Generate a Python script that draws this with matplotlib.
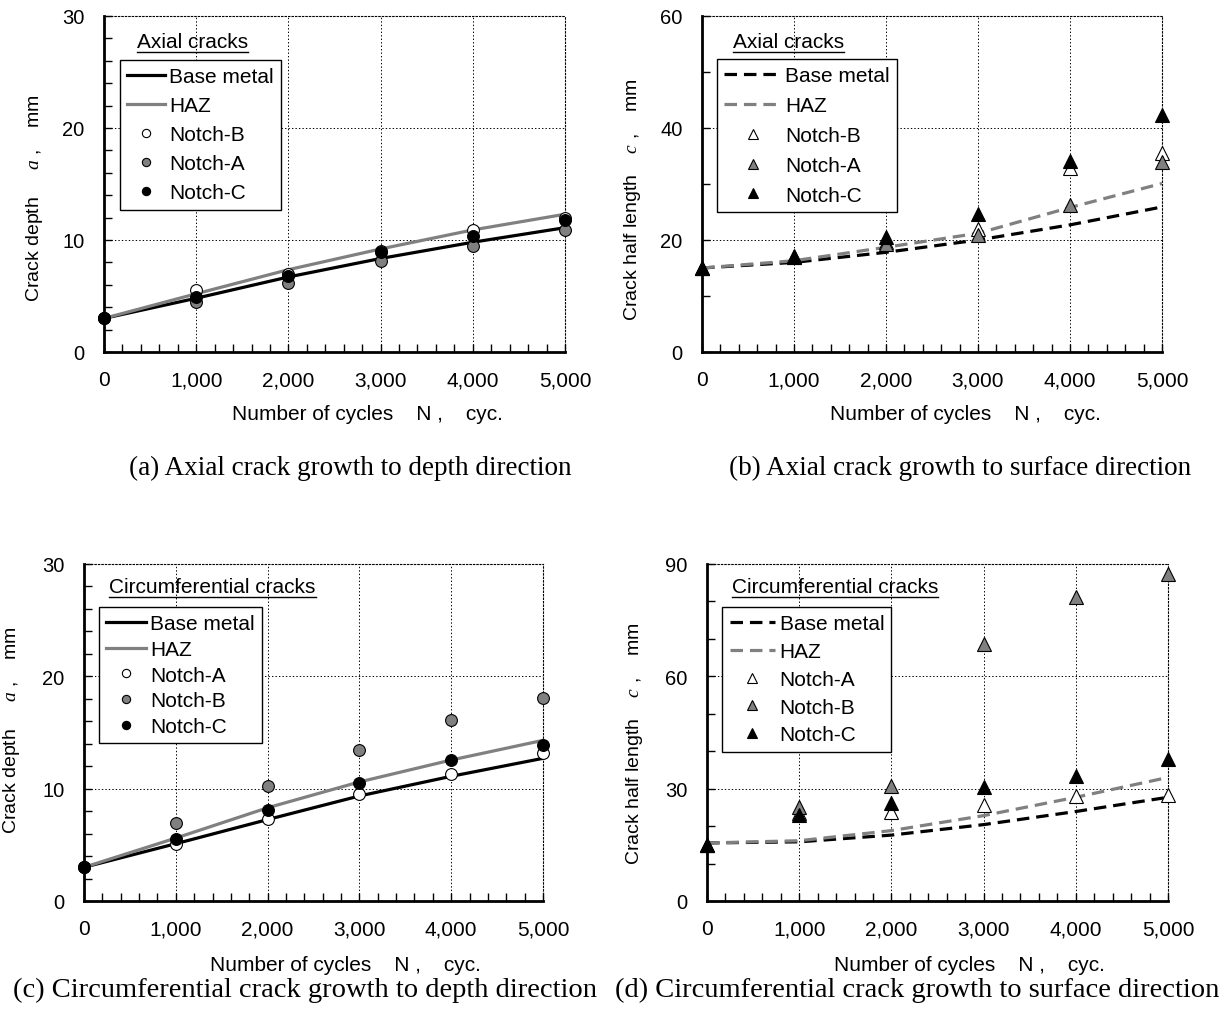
import matplotlib
matplotlib.use("Agg")
import matplotlib.pyplot as plt
from matplotlib.ticker import MultipleLocator, FuncFormatter
from matplotlib.lines import Line2D

plt.rcParams["font.family"] = ["Liberation Sans", "DejaVu Sans"]
plt.rcParams["mathtext.fontset"] = "custom"
plt.rcParams["mathtext.it"] = "Liberation Serif:italic"
plt.rcParams["mathtext.rm"] = "Liberation Sans"
plt.rcParams["lines.scale_dashes"] = False

# number of cycles
N_CYC = [0, 1000, 2000, 3000, 4000, 5000]

# (a) axial cracks, depth a [mm]
A_BASE = [3.0, 4.8, 6.7, 8.35, 9.8, 11.1]
A_HAZ = [3.0, 5.2, 7.35, 9.2, 10.9, 12.3]
A_NOTCH_B = [3.0, 5.5, 7.0, 9.05, 10.9, 12.0]
A_NOTCH_A = [3.0, 4.5, 6.15, 8.1, 9.5, 10.9]
A_NOTCH_C = [3.0, 4.9, 6.75, 8.9, 10.4, 11.8]

# (b) axial cracks, half length c [mm]
B_BASE = [15.0, 16.0, 17.8, 20.0, 22.7, 25.9]
B_HAZ = [15.0, 16.3, 18.7, 21.2, 25.8, 30.1]
B_NOTCH_B = [15.0, 17.0, 19.6, 21.9, 32.8, 35.6]
B_NOTCH_A = [15.0, 16.9, 19.3, 20.9, 26.3, 34.0]
B_NOTCH_C = [15.0, 17.2, 20.5, 24.7, 34.1, 42.4]

# (c) circumferential cracks, depth a [mm]
C_BASE = [3.0, 5.1, 7.25, 9.35, 11.1, 12.7]
C_HAZ = [3.0, 5.6, 8.3, 10.6, 12.55, 14.3]
C_NOTCH_A = [3.0, 5.1, 7.3, 9.5, 11.35, 13.2]
C_NOTCH_B = [3.0, 6.9, 10.2, 13.45, 16.1, 18.1]
C_NOTCH_C = [3.0, 5.5, 8.1, 10.5, 12.55, 13.9]

# (d) circumferential cracks, half length c [mm]
D_BASE = [15.5, 15.8, 17.6, 20.4, 23.9, 27.7]
D_HAZ = [15.5, 16.1, 18.8, 22.8, 27.7, 33.0]
D_NOTCH_A = [15.0, 23.5, 23.9, 25.7, 28.0, 28.4]
D_NOTCH_B = [15.0, 25.0, 30.8, 68.6, 81.1, 87.3]
D_NOTCH_C = [15.0, 23.0, 26.2, 30.4, 33.3, 37.9]

CAPTIONS = [
    "(a) Axial crack growth to depth direction",
    "(b) Axial crack growth to surface direction",
    "(c) Circumferential crack growth to depth direction",
    "(d) Circumferential crack growth to surface direction",
]

W, H = 1228, 1012
GRAY = "#808080"

fig = plt.figure(figsize=(W / 100, H / 100), dpi=100)


def px_axes(left, right, top, bottom):
    return fig.add_axes([left / W, 1 - bottom / H, (right - left) / W, (bottom - top) / H])


def style_axes(ax, ymax, ymajor, yminor, ylabel, ylab_xy, xlab_xy):
    ax.set_xlim(0, 5000)
    ax.set_ylim(0, ymax)
    ax.xaxis.set_major_locator(MultipleLocator(1000))
    ax.xaxis.set_minor_locator(MultipleLocator(200))
    ax.yaxis.set_major_locator(MultipleLocator(ymajor))
    ax.yaxis.set_minor_locator(MultipleLocator(yminor))
    ax.xaxis.set_major_formatter(FuncFormatter(lambda v, p: f"{int(v):,}"))
    ax.tick_params(which="both", direction="in", length=6, width=1.0)
    ax.tick_params(axis="x", which="major", pad=13, labelsize=15)
    ax.tick_params(axis="y", which="major", pad=14, labelsize=14.5)
    ax.grid(True, which="major", linestyle=(0, (1, 1.5)), color="black", linewidth=0.7)
    for s in ("left", "bottom"):
        ax.spines[s].set_linewidth(2.0)
    for s in ("top", "right"):
        ax.spines[s].set_linestyle((0, (1, 1.5)))
        ax.spines[s].set_linewidth(0.8)
    ax.set_axisbelow(True)
    ax.set_ylabel(ylabel, fontsize=14)
    ax.yaxis.set_label_coords(*ylab_xy)
    ax.set_xlabel("Number of cycles    N ,    cyc.", fontsize=15)
    ax.xaxis.set_label_coords(*xlab_xy)


def draw_panel(ax, base, haz, notches, ls, marker, title, leg_anchor, title_xy, spacing, hlen):
    dash = (0, (9, 5)) if ls == "dashed" else "-"
    ax.plot(N_CYC, base, color="black", linestyle=dash, linewidth=2.3, label="Base metal", zorder=3)
    ax.plot(N_CYC, haz, color=GRAY, linestyle=dash, linewidth=2.3, label="HAZ", zorder=3)
    for name, vals, fc in notches:
        ax.plot(N_CYC, vals, linestyle="none", marker=marker, markersize=9.5 if marker == "^" else 8.5,
                markerfacecolor=fc, markeredgecolor="black", markeredgewidth=0.8,
                label=name, zorder=4, clip_on=False)
    leg = ax.legend(loc="upper left", bbox_to_anchor=leg_anchor, borderaxespad=0,
                    fontsize=15, frameon=True, fancybox=False, framealpha=1,
                    edgecolor="black", labelspacing=spacing, handlelength=hlen,
                    handletextpad=0.2, borderpad=0.35, markerscale=0.7)
    leg.get_frame().set_linewidth(1.0)
    leg.set_zorder(10)
    t = ax.text(title_xy[0], title_xy[1], title, transform=ax.transAxes,
                fontsize=15, ha="left", va="center", zorder=11)
    return t


ax_a = px_axes(104, 565, 17, 353)
ax_b = px_axes(702, 1162, 17, 353)
ax_c = px_axes(84, 543, 565, 902)
ax_d = px_axes(707, 1168, 565, 902)

LAB_A = "Crack depth     $\\mathit{a}$ ,    mm"
LAB_C = "Crack half length    $\\mathit{c}$ ,    mm"
style_axes(ax_a, 30, 10, 2, LAB_A, (-0.128, 0.46), (0.572, -0.155))
style_axes(ax_b, 60, 20, 10, LAB_C, (-0.128, 0.455), (0.572, -0.155))
style_axes(ax_c, 30, 10, 2, LAB_A, (-0.135, 0.51), (0.569, -0.16))
style_axes(ax_d, 90, 30, 10, LAB_C, (-0.134, 0.47), (0.57, -0.16))

titles = []
titles.append(draw_panel(ax_a, A_BASE, A_HAZ,
                         [("Notch-B", A_NOTCH_B, "white"), ("Notch-A", A_NOTCH_A, GRAY),
                          ("Notch-C", A_NOTCH_C, "black")],
                         "solid", "o", "Axial cracks", (0.035, 0.869), (0.072, 0.923), 0.48, 1.8))
titles.append(draw_panel(ax_b, B_BASE, B_HAZ,
                         [("Notch-B", B_NOTCH_B, "white"), ("Notch-A", B_NOTCH_A, GRAY),
                          ("Notch-C", B_NOTCH_C, "black")],
                         "dashed", "^", "Axial cracks", (0.033, 0.872), (0.067, 0.923), 0.52, 2.7))
titles.append(draw_panel(ax_c, C_BASE, C_HAZ,
                         [("Notch-A", C_NOTCH_A, "white"), ("Notch-B", C_NOTCH_B, GRAY),
                          ("Notch-C", C_NOTCH_C, "black")],
                         "solid", "o", "Circumferential cracks", (0.033, 0.872), (0.055, 0.932), 0.32, 1.9))
titles.append(draw_panel(ax_d, D_BASE, D_HAZ,
                         [("Notch-A", D_NOTCH_A, "white"), ("Notch-B", D_NOTCH_B, GRAY),
                          ("Notch-C", D_NOTCH_C, "black")],
                         "dashed", "^", "Circumferential cracks", (0.033, 0.872), (0.054, 0.932), 0.42, 2.2))

# captions
cap_pos = [(350, 468), (960, 468), (305, 990), (917, 990)]
cap_size = [19.5, 19.5, 20.5, 20.5]
for (cx, cy), fs, txt in zip(cap_pos, cap_size, CAPTIONS):
    fig.text(cx / W, 1 - cy / H, txt, fontsize=fs, ha="center", va="center",
             family=["Liberation Serif", "DejaVu Serif"])

# underline legend titles
fig.canvas.draw()
r = fig.canvas.get_renderer()
for t in titles:
    bb = t.get_window_extent(renderer=r)
    y = bb.y0 - 1
    fig.add_artist(Line2D([bb.x0 / W, bb.x1 / W], [y / H, y / H], color="black", linewidth=1.0))

fig.savefig("out.png", dpi=100)
